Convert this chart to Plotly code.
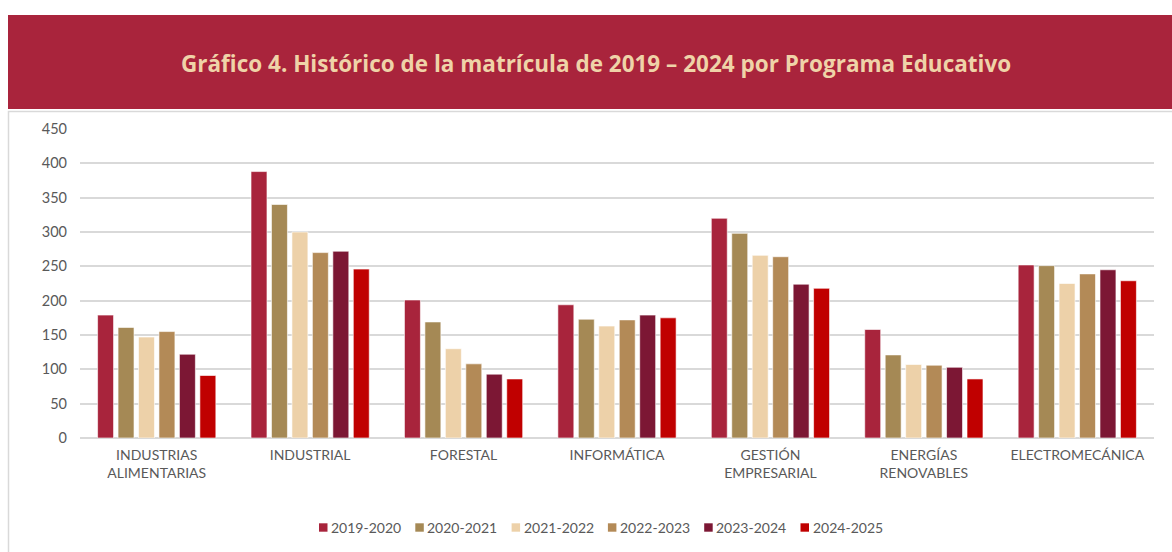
import plotly.graph_objects as go

categories = ["INDUSTRIAS<br>ALIMENTARIAS", "INDUSTRIAL", "FORESTAL", "INFORMÁTICA",
              "GESTIÓN<br>EMPRESARIAL", "ENERGÍAS<br>RENOVABLES", "ELECTROMECÁNICA"]
years = ["2019-2020", "2020-2021", "2021-2022", "2022-2023", "2023-2024", "2024-2025"]
v2019 = [179, 388, 201, 194, 320, 158, 252]
v2020 = [161, 340, 169, 173, 298, 121, 251]
v2021 = [147, 300, 130, 163, 266, 107, 225]
v2022 = [155, 270, 108, 172, 264, 106, 239]
v2023 = [122, 272, 93, 179, 224, 103, 245]
v2024 = [91, 246, 86, 175, 218, 86, 229]
series = [v2019, v2020, v2021, v2022, v2023, v2024]
colors = ["#A8243C", "#A58955", "#EDD1A9", "#B38A57", "#7C1734", "#C00000"]

W, H = 1172, 552
# plot area in page coords: x 80..1154, y 129..438
L, R, T, B = 80, W - 1154, 129, H - 438
pw, ph = W - L - R, H - T - B

def px(x):
    return (x - L) / pw

def py(y):
    return (H - B - y) / ph

fig = go.Figure()
for name, vals, col in zip(years, series, colors):
    fig.add_trace(go.Bar(x=categories, y=vals, name=name, showlegend=False,
                         marker=dict(color=col, line=dict(color="rgba(255,255,255,0.6)", width=1))))

font_family = "Lato, 'Open Sans', sans-serif"
shapes = [
    dict(type="rect", xref="paper", yref="paper", x0=px(8), x1=px(1175), y0=py(109), y1=py(15),
         fillcolor="#A9243C", line=dict(width=0), layer="below"),
    dict(type="rect", xref="paper", yref="paper", x0=px(8.5), x1=px(1190), y0=py(600), y1=py(111.5),
         fillcolor="rgba(0,0,0,0)", line=dict(color="#D9D9D9", width=1.5), layer="below"),
]
annotations = [
    dict(text="<b>Gráfico 4. Histórico de la matrícula de 2019 – 2024 por Programa Educativo</b>",
         xref="paper", yref="paper", x=px(596), y=py(63), xanchor="center", yanchor="middle",
         showarrow=False, font=dict(family="'Open Sans', sans-serif", size=22.5, color="#EFD3A8")),
]
# custom legend (tight spacing like the original)
leg_x0, leg_pitch, leg_y = 319, 96.3, 527.5
for i, (name, col) in enumerate(zip(years, colors)):
    x = leg_x0 + i * leg_pitch
    shapes.append(dict(type="rect", xref="paper", yref="paper", x0=px(x), x1=px(x + 8.5),
                       y0=py(leg_y + 4.2), y1=py(leg_y - 4.2), fillcolor=col, line=dict(width=0)))
    annotations.append(dict(text=name, xref="paper", yref="paper", x=px(x + 10), y=py(leg_y),
                            xanchor="left", yanchor="middle", showarrow=False,
                            font=dict(size=14, color="#595959")))

fig.update_layout(
    width=W, height=H,
    margin=dict(l=L, r=R, t=T, b=B, autoexpand=False),
    paper_bgcolor="white", plot_bgcolor="white",
    barmode="group", bargap=0.2, bargroupgap=0.22,
    font=dict(family=font_family, color="#595959", size=13),
    showlegend=False,
    xaxis=dict(showgrid=False, showline=False, ticks="", tickfont=dict(size=14, color="#595959"),
               ticklabelstandoff=7, automargin=False),
    yaxis=dict(range=[0, 450], dtick=50, showgrid=True, gridcolor="#D9D9D9", gridwidth=1.5,
               zeroline=True, zerolinecolor="#D9D9D9", zerolinewidth=1.5, automargin=False,
               tickfont=dict(size=14.5, color="#595959"), ticklabelstandoff=12),
    shapes=shapes,
    annotations=annotations,
)
fig.write_html("out.html", config={"displayModeBar": False},
               post_script="document.body.style.margin='0px';document.body.style.overflow='hidden';")
